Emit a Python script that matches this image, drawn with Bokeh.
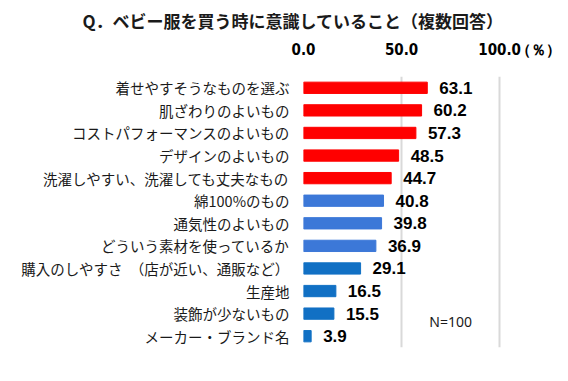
from bokeh.plotting import figure
from bokeh.models import ColumnDataSource, FactorRange, FixedTicker, NumeralTickFormatter, Title
from bokeh.core.properties import value
from bokeh.embed import file_html
from bokeh.resources import INLINE

categories = [
    "着せやすそうなものを選ぶ",
    "肌ざわりのよいもの",
    "コストパフォーマンスのよいもの",
    "デザインのよいもの",
    "洗濯しやすい、洗濯しても丈夫なもの",
    "綿100%のもの",
    "通気性のよいもの",
    "どういう素材を使っているか",
    "購入のしやすさ　（店が近い、通販など）",
    "生産地",
    "装飾が少ないもの",
    "メーカー・ブランド名",
]
values = [63.1, 60.2, 57.3, 48.5, 44.7, 40.8, 39.8, 36.9, 29.1, 16.5, 15.5, 3.9]
colors = ["#FF0000"] * 5 + ["#3C78D8"] * 3 + ["#1170C4"] * 4
labels = [f"{v:.1f}" for v in values]
ticks = [0, 50, 100]
unit_label = "（％）"
unit_pos = 120.5

title_text = "Q．ベビー服を買う時に意識していること（複数回答）"
jp = "Noto Sans CJK JP"
cond = "DejaVu Sans Condensed"

src = ColumnDataSource(dict(cat=categories, val=values, col=colors, lab=labels))

p = figure(
    width=560, height=375,
    y_range=FactorRange(factors=list(reversed(categories)), range_padding=0),
    x_range=(0, 130),
    x_axis_location="above",
    output_backend="svg", toolbar_location=None,
    min_border_left=303, min_border_right=2, min_border_top=75, min_border_bottom=28,
)
p.outline_line_color = None

p.xgrid.ticker = FixedTicker(ticks=ticks)
p.xgrid.grid_line_color = "#D9D9D9"
p.xgrid.grid_line_width = 2
p.ygrid.grid_line_color = None

p.hbar(y="cat", right="val", left=0, height=0.5, color="col", source=src)
p.text(x="val", y="cat", text="lab", source=src, x_offset=12,
       text_baseline="middle", text_align="left",
       text_font=value("Liberation Sans"), text_font_style="bold", text_font_size="17px",
       text_color="#000000")

xa = p.xaxis[0]
xa.ticker = FixedTicker(ticks=ticks + [unit_pos])
xa.formatter = NumeralTickFormatter(format="0.0")
xa.major_label_overrides = {unit_pos: unit_label}
xa.axis_line_color = None
xa.major_tick_line_color = None
xa.minor_tick_line_color = None
xa.major_label_standoff = 12
xa.major_label_text_font = cond
xa.major_label_text_font_style = "bold"
xa.major_label_text_font_size = "15px"
xa.major_label_text_color = "#000000"

ya = p.yaxis[0]
ya.axis_line_color = None
ya.major_tick_line_color = None
ya.minor_tick_line_color = None
ya.major_label_standoff = 8
ya.major_label_text_font = jp
ya.major_label_text_font_size = "14.5px"
ya.major_label_text_color = "#1a1a1a"

p.text(x=[75], y=["装飾が少ないもの"], text=["N=100"], y_offset=8,
       text_align="center", text_baseline="middle",
       text_font=value("Noto Sans"), text_font_size="14px", text_color="#1a1a1a")

p.add_layout(Title(text=title_text, align="left", offset=-221, standoff=10,
                   text_font=jp, text_font_style="bold", text_font_size="17px",
                   text_color="#1a1a1a"), "above")

open("out.html", "w").write(file_html(p, INLINE))
